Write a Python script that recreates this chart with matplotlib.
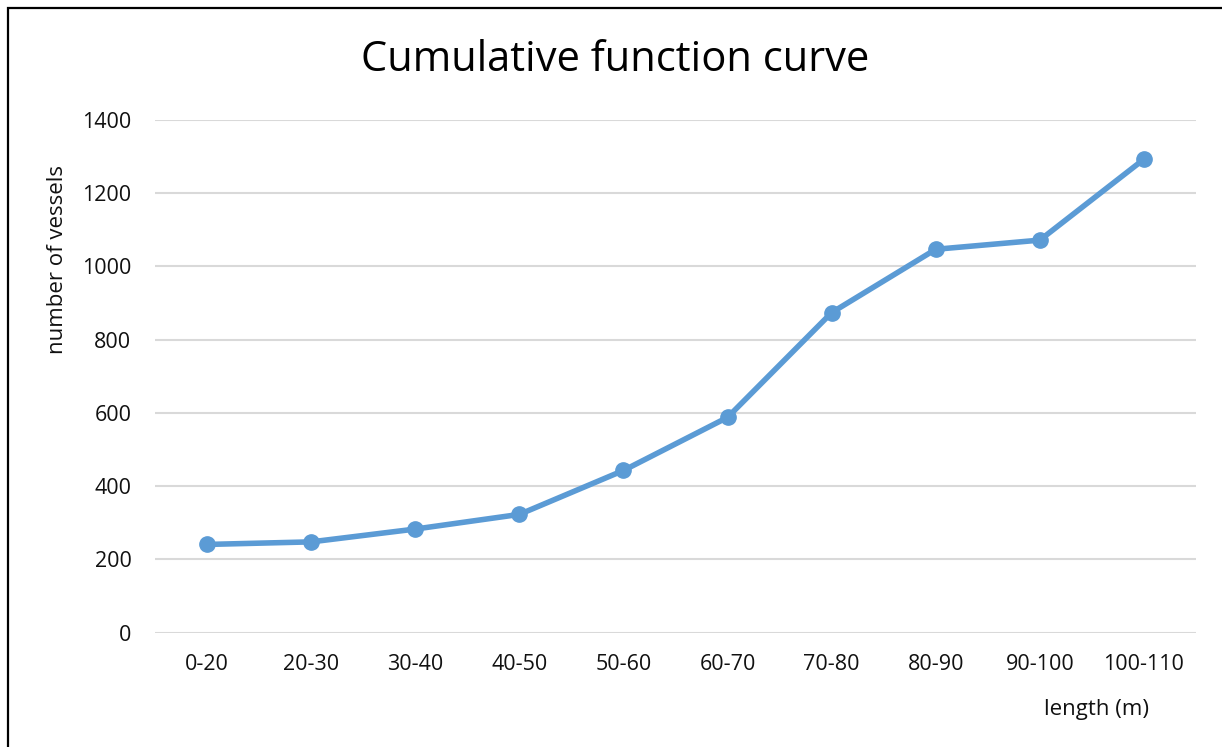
import matplotlib.pyplot as plt
from matplotlib.patches import Rectangle

# ---- data ----
length_bins = ["0-20", "20-30", "30-40", "40-50", "50-60",
               "60-70", "70-80", "80-90", "90-100", "100-110"]
vessel_counts = [241, 248, 283, 323, 443, 588, 874, 1047, 1072, 1293]
y_ticks = [0, 200, 400, 600, 800, 1000, 1200, 1400]
# --------------

LINE_COLOR = "#5B9BD5"
GRID_COLOR = "#D9D9D9"
TEXT_COLOR = "#111111"
FONT = ["Open Sans", "DejaVu Sans"]

W, H = 1222, 747
fig = plt.figure(figsize=(W / 100, H / 100), dpi=100)
plt.rcParams["font.family"] = FONT

ax = fig.add_axes([155 / W, (H - 632.7) / H, 1041 / W, 512.7 / H])
x = list(range(len(length_bins)))
ax.plot(x, vessel_counts, color=LINE_COLOR, lw=4, marker="o",
        markersize=11, solid_joinstyle="round", zorder=3)

ax.set_xlim(-0.5, len(length_bins) - 0.5)
ax.set_ylim(0, 1400)
ax.set_yticks(y_ticks)
ax.set_xticks(x)
ax.set_xticklabels(length_bins)
ax.yaxis.grid(True, color=GRID_COLOR, lw=1.5)
ax.set_axisbelow(True)
for s in ax.spines.values():
    s.set_visible(False)
ax.tick_params(length=0, labelsize=15.5, colors=TEXT_COLOR)
ax.tick_params(axis="x", pad=15)
ax.tick_params(axis="y", pad=17)

fig.text(615 / W, 1 - 60 / H, "Cumulative function curve",
         ha="center", va="center", fontsize=30, color="black")
fig.text(58 / W, 1 - 259 / H, "number of vessels", rotation=90,
         ha="center", va="center", fontsize=16, color=TEXT_COLOR)
fig.text(1097 / W, 1 - 710 / H, "length (m)",
         ha="center", va="center", fontsize=16, color=TEXT_COLOR)

# chart frame, runs off the right and bottom edges
fig.patches.append(Rectangle((8 / W, -0.05), 1.2, 1 - 8 / H + 0.05,
                             transform=fig.transFigure, fill=False,
                             edgecolor="black", lw=1.6))

fig.savefig("out.png", dpi=100)
